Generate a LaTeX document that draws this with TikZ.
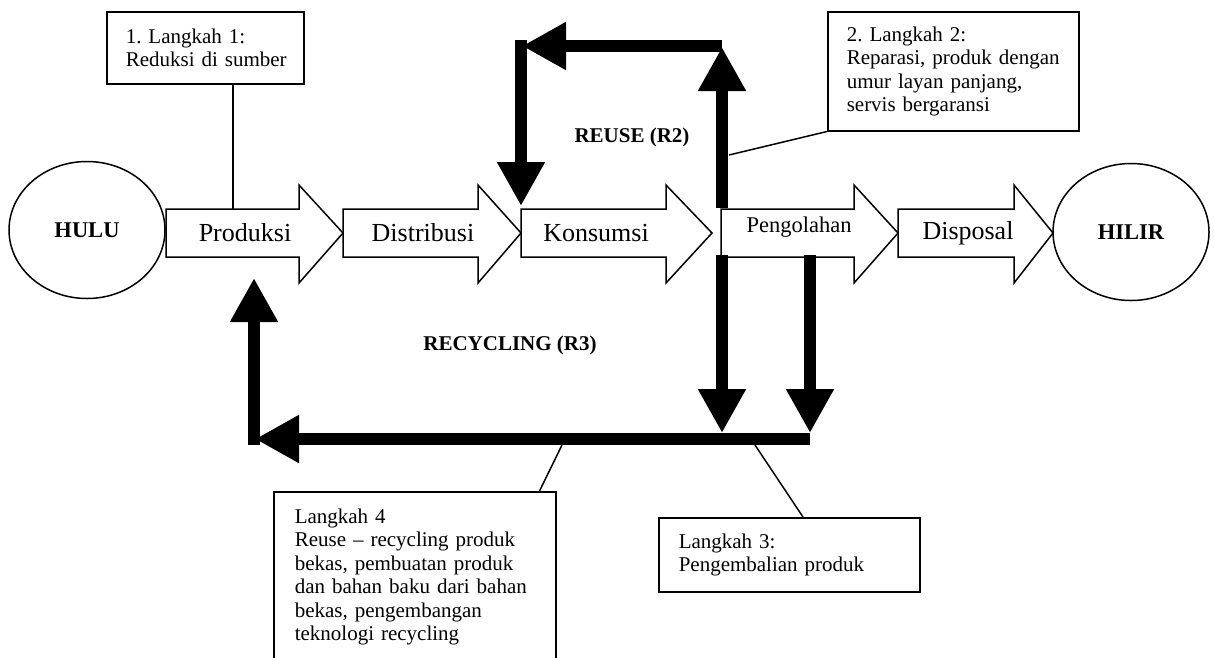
\documentclass[tikz,border=0pt]{standalone}
\usepackage{fontspec}
\setmainfont{Liberation Serif}
\usetikzlibrary{arrows.meta,shapes.geometric}
\frenchspacing
% block arrow of the main chain: body from #1 to #2, head from #2 to tip #3
\newcommand\flowarrow[3]{%
  \draw[flowshape] (#1,209) -- (#2,209) -- (#2,185) -- (#3,233) -- (#2,283)
    -- (#2,257) -- (#1,257) -- cycle;}
\begin{document}
\begin{tikzpicture}[x=1pt,y=-1pt,
  flowshape/.style={draw,line width=1.5pt,fill=white,line join=miter},
  flowtext/.style={font=\fontsize{26}{30}\selectfont,inner sep=0pt},
  endpoint/.style={draw,ellipse,line width=1.5pt,minimum width=156pt,
    minimum height=137pt,inner sep=0pt,font=\bfseries\fontsize{22.5}{26}\selectfont},
  notebox/.style={draw,line width=1.5pt,anchor=north west,align=left,
    inner ysep=0pt,font=\fontsize{21}{23.5}\selectfont},
  bigflow/.style={line width=12pt,-{Triangle[width=45pt,length=44pt]}},
  leader/.style={line width=1.5pt},
  looplabel/.style={font=\bfseries\fontsize{21}{24}\selectfont,inner sep=0pt}]
\useasboundingbox (0,0) rectangle (1214,657);
\clip (0,0) rectangle (1214,657);

% source and sink
\node[endpoint] (hulu) at (87,230) {HULU};
\node[endpoint] (hilir) at (1131,232) {HILIR};

% main chain
\flowarrow{166}{299}{343}
\flowarrow{343}{478}{521}
\flowarrow{521}{666}{712}
\flowarrow{721}{854}{898}
\flowarrow{898}{1014}{1053}
\node[flowtext] (produksi) at (245,233) {Produksi};
\node[flowtext] (distribusi) at (423,233) {Distribusi};
\node[flowtext] (konsumsi) at (596,233) {Konsumsi};
\node[flowtext,font=\fontsize{22.5}{26}\selectfont] (pengolahan) at (799,227) {Pengolahan};
\node[flowtext] (disposal) at (968,233) {Disposal};

% note boxes
\node[notebox,inner xsep=19pt,text width=159pt,minimum height=72pt] (step1) at (106,11)
  {1. Langkah 1:\\\mbox{Reduksi di sumber}};
\node[notebox,inner xsep=19pt,text width=213pt,minimum height=119pt] (step2) at (827,11)
  {2. Langkah 2:\\\mbox{Reparasi, produk dengan}\\umur layan panjang,\\servis bergaransi};
\node[notebox,inner xsep=20pt,text width=221pt,minimum height=74pt] (step3) at (658,517)
  {Langkah 3:\\Pengembalian produk};
\node[notebox,inner xsep=21pt,text width=240pt,minimum height=170pt] (step4) at (273,491)
  {Langkah 4\\Reuse – recycling produk\\bekas, pembuatan produk\\\mbox{dan bahan baku dari bahan}\\bekas, pengembangan\\teknologi recycling};

% loop labels
\node[looplabel] (reuse) at (632,137) {REUSE (R2)};
\node[looplabel] (recycling) at (510,345) {RECYCLING (R3)};

% reuse loop
\coordinate (upA) at (722,208);  \coordinate (upB) at (722,47);
\coordinate (topR) at (722,46);  \coordinate (topL) at (522,46);
\coordinate (dnA) at (521,40);   \coordinate (dnB) at (521,206);
\draw[bigflow] (upA) -- (upB);
\draw[bigflow] (topR) -- (topL);
\draw[bigflow] (dnA) -- (dnB);

% recycling loop
\coordinate (r1a) at (722,255);  \coordinate (r1b) at (722,433);
\coordinate (r2a) at (810,255);  \coordinate (r2b) at (810,433);
\coordinate (barR) at (810,439); \coordinate (barL) at (255,439);
\coordinate (upLa) at (254,445); \coordinate (upLb) at (254,278);
\draw[bigflow] (r1a) -- (r1b);
\draw[bigflow] (r2a) -- (r2b);
\draw[bigflow] (barR) -- (barL);
\draw[bigflow] (upLa) -- (upLb);

% leaders from the notes
\coordinate (s1end) at (233,209);
\coordinate (s2end) at (729,155);
\coordinate (s3end) at (755,445);
\coordinate (s4end) at (562,445);
\draw[leader] (s1end |- step1.south) -- (s1end);
\draw[leader] (step2.south west) -- (s2end);
\draw[leader] ([xshift=145pt]step3.north west) -- (s3end);
\draw[leader] ([xshift=-17pt]step4.north east) -- (s4end);
\end{tikzpicture}
\end{document}
